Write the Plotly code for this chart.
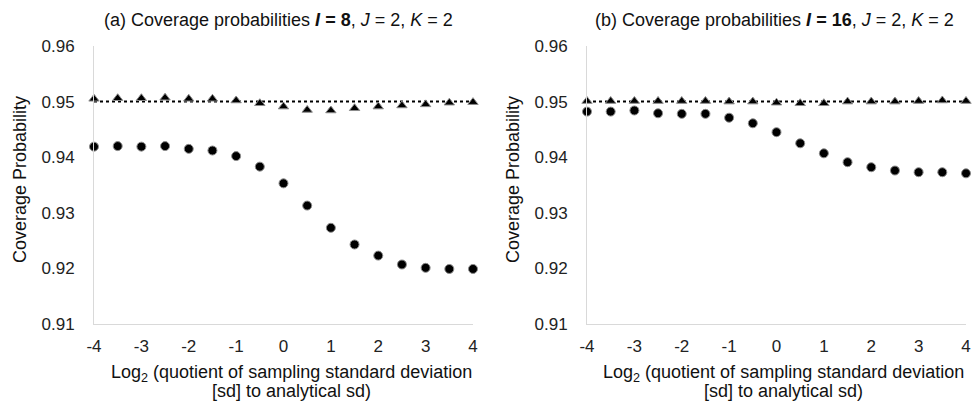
import plotly.graph_objects as go

x_vals = [-4, -3.5, -3, -2.5, -2, -1.5, -1, -0.5, 0, 0.5, 1, 1.5, 2, 2.5, 3, 3.5, 4]

# Panel (a) I = 8
a_circles = [0.9419, 0.9420, 0.9419, 0.9420, 0.9415, 0.9412, 0.9402, 0.9383, 0.9353,
             0.9313, 0.9273, 0.9243, 0.9223, 0.9207, 0.9201, 0.9199, 0.9199]
a_triangles = [0.9505, 0.9506, 0.9506, 0.9507, 0.9505, 0.9505, 0.9502, 0.9497, 0.9491,
               0.9485, 0.9484, 0.9488, 0.9491, 0.9493, 0.9495, 0.9498, 0.9499]

# Panel (b) I = 16
b_circles = [0.9482, 0.9482, 0.9484, 0.9479, 0.9478, 0.9478, 0.9471, 0.9461, 0.9445,
             0.9425, 0.9407, 0.9391, 0.9382, 0.9376, 0.9373, 0.9373, 0.9371]
b_triangles = [0.9501, 0.9501, 0.9501, 0.9501, 0.9501, 0.9501, 0.9500, 0.9500, 0.9498,
               0.9497, 0.9497, 0.9500, 0.9500, 0.9500, 0.9501, 0.9502, 0.9501]

nominal_x = [-4, 4]
nominal_y = [0.95, 0.95]

x_ticks = [-4, -3, -2, -1, 0, 1, 2, 3, 4]
x_ticklabels = ["-4", "-3", "-2", "-1", "0", "1", "2", "3", "4"]
y_ticks = [0.91, 0.92, 0.93, 0.94, 0.95, 0.96]
y_ticklabels = ["0.91", "0.92", "0.93", "0.94", "0.95", "0.96"]

titles = ["(a) Coverage probabilities <b><i>I</i> = 8</b>, <i>J</i> = 2, <i>K</i> = 2",
          "(b) Coverage probabilities <b><i>I</i> = 16</b>, <i>J</i> = 2, <i>K</i> = 2"]
x_title_lines = ["Log<sub>2</sub> (quotient of sampling standard deviation",
                 "[sd] to analytical sd)"]
y_title = "Coverage Probability"

W, H = 978, 402
FONT = "Liberation Sans, Arial, sans-serif"
FS_TICK = 17
FS_TEXT = 18

fig = go.Figure()

panels = [
    dict(circ=a_circles, tri=a_triangles, xd=[94 / W, 473 / W], xa="x", ya="y",
         title_x=102, xt_x=291, yt_x=20),
    dict(circ=b_circles, tri=b_triangles, xd=[587 / W, 966 / W], xa="x2", ya="y2",
         title_x=593, xt_x=783, yt_x=513),
]
ydom = [1 - 324 / H, 1 - 46 / H]

for i, p in enumerate(panels):
    fig.add_trace(go.Scatter(x=nominal_x, y=nominal_y, mode="lines",
                             line=dict(color="black", dash="dot", width=2),
                             xaxis=p["xa"], yaxis=p["ya"], showlegend=False, hoverinfo="skip"))
    fig.add_trace(go.Scatter(x=x_vals, y=p["circ"], mode="markers",
                             marker=dict(symbol="circle", size=9, color="black",
                                         line=dict(color="#8c8c8c", width=1)),
                             xaxis=p["xa"], yaxis=p["ya"], showlegend=False, cliponaxis=False))
    fig.add_trace(go.Scatter(x=x_vals, y=p["tri"], mode="markers",
                             marker=dict(symbol="triangle-up", size=9, color="black",
                                         line=dict(color="#8c8c8c", width=1)),
                             xaxis=p["xa"], yaxis=p["ya"], showlegend=False, cliponaxis=False))

axis_common = dict(showgrid=False, zeroline=False, showline=True, linecolor="#d9d9d9",
                   linewidth=1, ticks="", automargin=False,
                   tickfont=dict(family=FONT, size=FS_TICK, color="#222"))
layout = dict(width=W, height=H, margin=dict(l=0, r=0, t=0, b=0, autoexpand=False),
              plot_bgcolor="white", paper_bgcolor="white", showlegend=False)
for i, p in enumerate(panels):
    sx = "" if i == 0 else "2"
    layout["xaxis" + sx] = dict(axis_common, domain=p["xd"], range=[-4, 4], tickvals=x_ticks,
                                ticktext=x_ticklabels, anchor="y" + sx, ticklabelstandoff=7)
    layout["yaxis" + sx] = dict(axis_common, domain=ydom, range=[0.91, 0.96], tickvals=y_ticks,
                                ticktext=y_ticklabels, anchor="x" + sx, ticklabelstandoff=15)
fig.update_layout(**layout)

annotations = []
for i, p in enumerate(panels):
    annotations.append(dict(text=titles[i], x=p["title_x"] / W, y=1 - 20 / H, xref="paper",
                            yref="paper", showarrow=False, xanchor="left", yanchor="middle",
                            font=dict(family=FONT, size=FS_TEXT, color="#111")))
    for j, (line, yc) in enumerate(zip(x_title_lines, [373, 391])):
        annotations.append(dict(text=line, x=p["xt_x"] / W, y=1 - yc / H, xref="paper",
                                yref="paper", showarrow=False, xanchor="center",
                                yanchor="middle",
                                font=dict(family=FONT, size=FS_TEXT, color="#111")))
    annotations.append(dict(text=y_title, x=p["yt_x"] / W, y=1 - 180 / H,
                            xref="paper", yref="paper", textangle=-90,
                            showarrow=False, xanchor="center", yanchor="middle",
                            font=dict(family=FONT, size=FS_TEXT, color="#111")))
fig.update_layout(annotations=annotations)

fig.write_html("out.html", config={"displayModeBar": False},
               post_script="document.body.style.margin='0';document.body.style.overflow='hidden';")
